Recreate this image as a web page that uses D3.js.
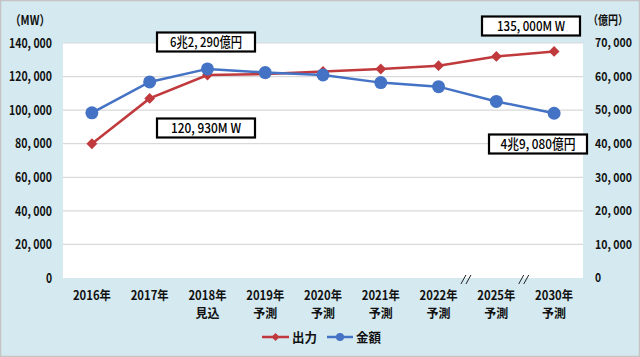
<!DOCTYPE html>
<html><head><meta charset="utf-8">
<script src="https://cdn.jsdelivr.net/npm/d3@7"></script>
<style>
body{margin:0;padding:0;background:#fff;}
svg{display:block;}
.num{font-family:"Noto Sans CJK JP",sans-serif;font-weight:bold;}
</style></head>
<body><svg id="c" width="640" height="357"></svg>
<script>
const categories = ["2016年","2017年","2018年","2019年","2020年","2021年","2022年","2025年","2030年"];
const subLabels = ["","","見込","予測","予測","予測","予測","予測","予測"];
const outputMW = [80000,107000,120930,121500,123000,124500,126500,132000,135000];
const amountOku = [49200,58400,62290,61200,60500,58200,57000,52600,49080];
const leftTicks = [0,20000,40000,60000,80000,100000,120000,140000];
const rightTicks = [0,10000,20000,30000,40000,50000,60000,70000];
const annotations = [
  {text:"6兆2, 290億円", x:206, y:42, w:72},
  {text:"120, 930M W", x:206, y:128, w:70},
  {text:"135, 000M W", x:531, y:26, w:68},
  {text:"4兆9, 080億円", x:538, y:144, w:75}
];
const breakAfter = [6,7];

const svg = d3.select("#c");
const W=640,H=357;
function squeeze(sel, target){
  sel.each(function(){
    const n = this.getComputedTextLength();
    const w = typeof target==="function" ? target(this.textContent,n) : target;
    if(n>0) d3.select(this).attr("textLength",w).attr("lengthAdjust","spacingAndGlyphs");
  });
}
svg.append("rect").attr("x",0.5).attr("y",0.5).attr("width",W-1).attr("height",H-1)
  .attr("fill","#d4e9f0").attr("stroke","#c4c4c4").attr("stroke-width",1.5);

const L=63,R=583,T=43,B=278;
svg.append("rect").attr("x",L).attr("y",T).attr("width",R-L).attr("height",B-T).attr("fill","#fff");

const x = d3.scaleBand().domain(categories).range([L,R]);
const yL = d3.scaleLinear().domain([0,140000]).range([B,T]);
const yR = d3.scaleLinear().domain([0,70000]).range([B,T]);
const fmt = v => d3.format(",")(v).replace(",",", ");
const perChar = s => { let w=0; for(const c of s){ if(/[0-9]/.test(c)) w+=6.1; else if(c===",") w+=2.8; else if(c===" ") w+=3.6; else w+=12.2; } return w; };

// gridlines
svg.append("g").selectAll("line").data(leftTicks.filter(d=>d>0)).join("line")
  .attr("x1",L).attr("x2",R).attr("y1",d=>yL(d)).attr("y2",d=>yL(d))
  .attr("stroke","#d9d9d9").attr("stroke-width",1.2);

// left axis
const axL = d3.axisLeft(yL).tickValues(leftTicks).tickFormat(fmt).tickSize(0).tickPadding(11);
const gL = svg.append("g").attr("transform",`translate(${L},0)`).call(axL);
gL.select(".domain").remove();
gL.selectAll("text").attr("class","num").attr("font-size",13).attr("fill","#111");
squeeze(gL.selectAll("text"), s=>perChar(s));

const axR = d3.axisRight(yR).tickValues(rightTicks).tickFormat(fmt).tickSize(0).tickPadding(12);
const gR = svg.append("g").attr("transform",`translate(${R},0)`).call(axR);
gR.select(".domain").remove();
gR.selectAll("text").attr("class","num").attr("font-size",12).attr("fill","#111");
squeeze(gR.selectAll("text"), s=>perChar(s));

// axis titles
const t1 = svg.append("text").attr("class","num").attr("x",10).attr("y",25).attr("font-size",13).attr("fill","#111").text("（MW）");
squeeze(t1, 40);
const t2 = svg.append("text").attr("class","num").attr("x",588).attr("y",25).attr("font-size",12).attr("fill","#111").text("（億円）");
squeeze(t2, 40);

// x labels
const axX = d3.axisBottom(x).tickSize(0).tickPadding(0);
const gX = svg.append("g").attr("transform",`translate(0,${B})`).call(axX);
gX.select(".domain").remove();
gX.selectAll("text").remove();
gX.selectAll(".tick").each(function(d,i){
  const t = d3.select(this);
  const a = t.append("text").attr("class","num").attr("y",22).attr("text-anchor","middle").attr("font-size",12.5)
    .attr("fill","#111").text(d);
  squeeze(a, 38);
  if(subLabels[i]){
    const b = t.append("text").attr("class","num").attr("y",40).attr("text-anchor","middle").attr("font-size",12.5)
      .attr("fill","#111").text(subLabels[i]);
    squeeze(b, 24);
  }
});

// break marks
breakAfter.forEach(i=>{
  const bx = (x(categories[i])+x.bandwidth() + x(categories[i+1]))/2 - 1;
  [-3,2].forEach(o=>{
    svg.append("line").attr("x1",bx+o-2.5).attr("y1",B+6).attr("x2",bx+o+2.5).attr("y2",B-3)
      .attr("stroke","#222").attr("stroke-width",1);
  });
});

const cx = (d,i)=>x(categories[i])+x.bandwidth()/2;
const red="#c0393c", blue="#4472c4";
const lineL = d3.line().x((d,i)=>cx(d,i)).y(d=>yL(d));
const lineR = d3.line().x((d,i)=>cx(d,i)).y(d=>yR(d));

svg.append("path").datum(outputMW).attr("d",lineL).attr("fill","none").attr("stroke",red).attr("stroke-width",2.5);
svg.append("path").datum(amountOku).attr("d",lineR).attr("fill","none").attr("stroke",blue).attr("stroke-width",2.5);

const diamond = d3.symbol().type(d3.symbolDiamond2).size(75);
svg.append("g").selectAll("path").data(outputMW).join("path")
  .attr("d",diamond).attr("transform",(d,i)=>`translate(${cx(d,i)},${yL(d)})`).attr("fill",red);
svg.append("g").selectAll("circle").data(amountOku).join("circle")
  .attr("cx",(d,i)=>cx(d,i)).attr("cy",d=>yR(d)).attr("r",6.5).attr("fill",blue);

// annotations
annotations.forEach(a=>{
  const g = svg.append("g");
  g.append("rect").attr("x",a.x-49).attr("y",a.y-9.5).attr("width",98).attr("height",19)
    .attr("fill","#fff").attr("stroke","#000").attr("stroke-width",2.2);
  const t = g.append("text").attr("x",a.x).attr("y",a.y+5).attr("text-anchor","middle")
    .attr("font-family","'Noto Sans CJK JP',sans-serif").attr("font-weight",500).attr("font-size",13.5)
    .attr("fill","#000").text(a.text);
  squeeze(t, a.w);
});

// legend
const lg = svg.append("g");
const ly = 337;
lg.append("line").attr("x1",262).attr("x2",289).attr("y1",ly).attr("y2",ly).attr("stroke",red).attr("stroke-width",2.5);
lg.append("path").attr("d",d3.symbol().type(d3.symbolDiamond2).size(40)).attr("transform",`translate(275.5,${ly})`).attr("fill",red);
const lt1 = lg.append("text").attr("class","num").attr("x",292).attr("y",ly+5).attr("font-size",13).attr("fill","#111").text("出力");
squeeze(lt1, 25);
lg.append("line").attr("x1",327).attr("x2",353).attr("y1",ly).attr("y2",ly).attr("stroke",blue).attr("stroke-width",2.5);
lg.append("circle").attr("cx",340).attr("cy",ly).attr("r",4).attr("fill",blue);
const lt2 = lg.append("text").attr("class","num").attr("x",356).attr("y",ly+5).attr("font-size",13).attr("fill","#111").text("金額");
squeeze(lt2, 25);
</script></body></html>
